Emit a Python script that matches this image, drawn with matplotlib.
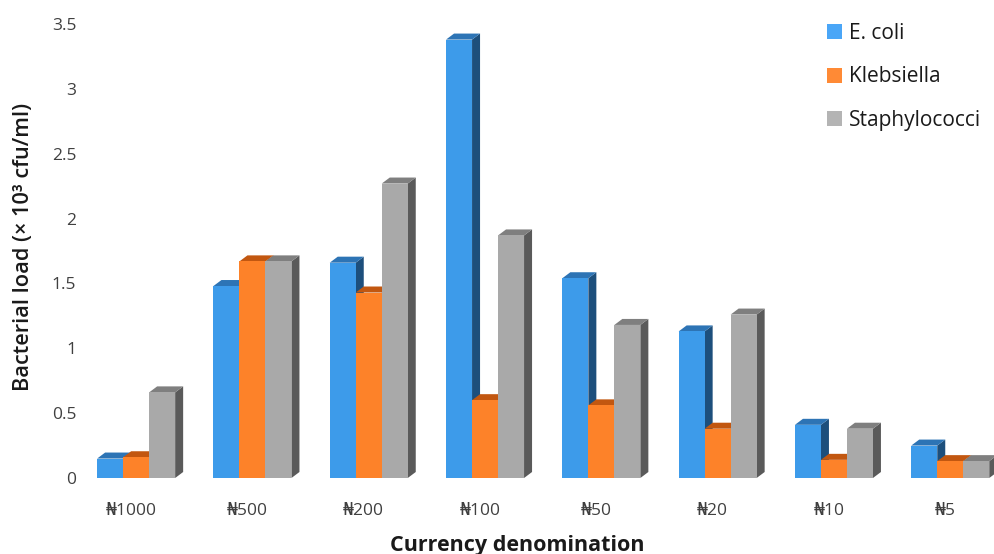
import matplotlib
matplotlib.use("Agg")
import matplotlib.pyplot as plt
from matplotlib.patches import Polygon, Patch

categories = ["₦1000", "₦500", "₦200", "₦100", "₦50", "₦20", "₦10", "₦5"]
series_names = ["E. coli", "Klebsiella", "Staphylococci"]
ecoli = [0.15, 1.48, 1.66, 3.38, 1.54, 1.13, 0.41, 0.25]
klebsiella = [0.16, 1.67, 1.43, 0.60, 0.56, 0.38, 0.14, 0.13]
staphylococci = [0.66, 1.67, 2.27, 1.87, 1.18, 1.26, 0.38, 0.13]
yticks = [0, 0.5, 1, 1.5, 2, 2.5, 3, 3.5]
ytick_labels = ["0", "0.5", "1", "1.5", "2", "2.5", "3", "3.5"]

front = ["#3d9bea", "#fd8229", "#a9a9a9"]
side = ["#1d4f7c", "#a14a10", "#5a5a5a"]
top = ["#2d74b5", "#c25710", "#7f7f7f"]
legend_colors = ["#4aa6f7", "#ff8a35", "#b4b4b4"]

plt.rcParams['font.family'] = ['Open Sans', 'DejaVu Sans']

W, H = 995, 554
fig = plt.figure(figsize=(W / 100, H / 100), dpi=100)
ax_left, ax_right, ax_bottom, ax_top = 79, 995, 478, 24
ax = fig.add_axes([ax_left / W, 1 - ax_bottom / H, (ax_right - ax_left) / W, (ax_bottom - ax_top) / H])

px_x = 116.3
xmin = -0.5 + 6 / px_x
ax.set_xlim(xmin, xmin + (ax_right - ax_left) / px_x)
ax.set_ylim(0, 3.5)
px_y = (ax_bottom - ax_top) / 3.5

bw = 26 / px_x
dx = 8 / px_x
dy = 6 / px_y
shift = 5 / px_x

data = [ecoli, klebsiella, staphylococci]
z = 2
for i in range(len(categories)):
    for s in range(3):
        v = data[s][i]
        xl = i + shift - 1.5 * bw + s * bw
        xr = xl + bw
        ax.add_patch(Polygon([(xr, 0), (xr + dx, dy), (xr + dx, v + dy), (xr, v)],
                             closed=True, facecolor=side[s], edgecolor='none', zorder=z))
        ax.add_patch(Polygon([(xl, v), (xl + dx, v + dy), (xr + dx, v + dy), (xr, v)],
                             closed=True, facecolor=top[s], edgecolor='none', zorder=z))
        ax.bar(xl, v, width=bw, align='edge', color=front[s], edgecolor='none', zorder=z + 0.5)
        z += 1

ax.set_xticks(range(len(categories)))
ax.set_xticklabels(categories, fontsize=12.5, color="#404040")
ax.set_yticks(yticks)
ax.set_yticklabels(ytick_labels, fontsize=12.5, color="#404040")
ax.tick_params(axis='both', length=0)
ax.tick_params(axis='x', pad=18)
ax.tick_params(axis='y', pad=2)
for sp in ax.spines.values():
    sp.set_visible(False)
for p in ax.patches:
    p.set_clip_on(False)

fig.text(517 / W, 1 - 545 / H, "Currency denomination", ha='center', va='center',
         fontsize=15.5, fontweight='bold', color='#1a1a1a')
fig.text(24 / W, 1 - 247 / H, "Bacterial load (× 10³ cfu/ml)", ha='center', va='center',
         rotation=90, fontsize=15.7, fontweight='semibold', color='#1a1a1a')

handles = [Patch(facecolor=c, edgecolor='none') for c in legend_colors]
leg = fig.legend(handles, series_names, loc='upper left', bbox_to_anchor=(827 / W, 1 - 23 / H),
                 frameon=False, fontsize=15, labelspacing=1.08, handlelength=0.72, handleheight=0.72,
                 handletextpad=0.34, borderaxespad=0, borderpad=0)
for t in leg.get_texts():
    t.set_color('#1a1a1a')

fig.savefig("out.png", dpi=100, facecolor='white')
